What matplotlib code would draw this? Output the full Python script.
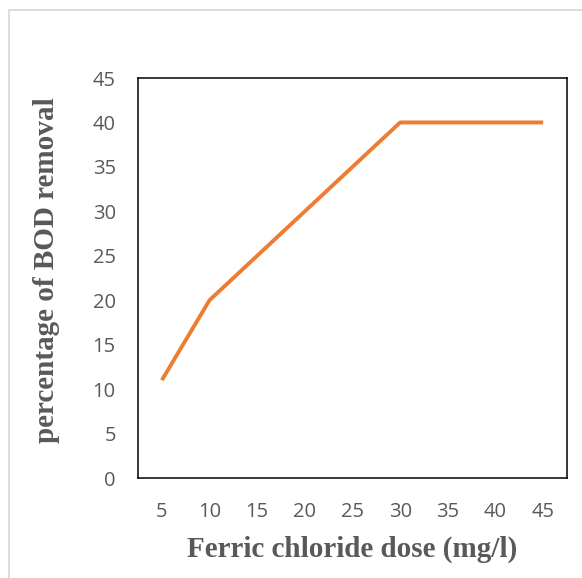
import matplotlib
matplotlib.use("Agg")
import matplotlib.pyplot as plt
from matplotlib.patches import Rectangle

dose = [5, 10, 15, 20, 25, 30, 35, 40, 45]
removal = [11, 20, 25, 30, 35, 40, 40, 40, 40]
yticks = [0, 5, 10, 15, 20, 25, 30, 35, 40, 45]

gray = "#595959"
orange = "#ED7D31"

fig = plt.figure(figsize=(5.82, 5.78), dpi=100)
fig.patch.set_facecolor("white")

# light outer frame like the exported chart area
fig.patches.append(Rectangle((9 / 582, -0.05), 1.0, 1 - 10 / 578 + 0.05,
                             transform=fig.transFigure, fill=False,
                             edgecolor="#D9D9D9", linewidth=1.3))

ax = fig.add_axes([138 / 582, 1 - 478 / 578, (567 - 138) / 582, (478 - 78) / 578])
ax.plot(dose, removal, color=orange, linewidth=2.8, solid_capstyle="butt")

ax.set_xlim(2.5, 47.5)
ax.set_ylim(0, 45)
ax.set_xticks(dose)
ax.set_yticks(yticks)
ax.tick_params(length=0, labelsize=14.5, labelcolor=gray)
ax.tick_params(axis="y", pad=16)
ax.tick_params(axis="x", pad=17)
for lab in ax.get_xticklabels() + ax.get_yticklabels():
    lab.set_family("Open Sans")

for s in ax.spines.values():
    s.set_color("black")
    s.set_linewidth(1.1)

ax.set_xlabel("Ferric chloride dose (mg/l)", fontsize=21, fontweight="bold",
              family="Liberation Serif", color=gray)
ax.set_ylabel("percentage of BOD removal", fontsize=21, fontweight="bold",
              family="Liberation Serif", color=gray)
ax.xaxis.set_label_coords(0.5, -0.143)
ax.yaxis.set_label_coords(-0.182, 0.52)

fig.savefig("out.png", dpi=100)
